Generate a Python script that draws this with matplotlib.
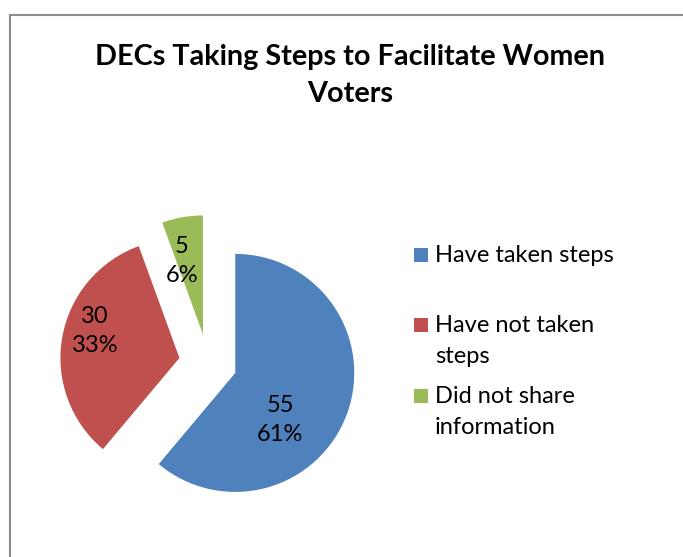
import matplotlib.pyplot as plt
from matplotlib.patches import Rectangle

# survey counts
categories = ["Have taken steps", "Have not taken\nsteps", "Did not share\ninformation"]
counts = [55, 30, 5]
colors = ["#4F81BD", "#C0504D", "#9BBB59"]
title = "DECs Taking Steps to Facilitate Women\nVoters"

plt.rcParams['font.family'] = ['Lato', 'DejaVu Sans']

W, H = 683, 557
R = 119.0          # pie radius in pixels
cx, cy = 208, 363  # pie centre (pixels from top-left)

fig = plt.figure(figsize=(W / 100, H / 100), dpi=100)
ax = fig.add_axes([0, 0, 1, 1])

total = sum(counts)

def fmt(pct):
    return f"{round(pct * total / 100)}\n{pct:.0f}%"

wedges, texts, autotexts = ax.pie(
    counts, colors=colors, startangle=90, counterclock=False,
    explode=[29 / R] * 3, radius=1, autopct=fmt,
    textprops=dict(fontsize=17, color="black", linespacing=1.45))

ax.set_xlim(-cx / R, (W - cx) / R)
ax.set_ylim(-(H - cy) / R, cy / R)
ax.set_aspect('equal')
ax.axis('off')

# data label positions (pixels)
label_pos = [(280, 420), (95, 331), (182, 261)]
for t, (px, py) in zip(autotexts, label_pos):
    t.set_position(((px - cx) / R, (cy - py) / R))
    t.set_ha('center')
    t.set_va('center')

# chart area border (only top and left edges show)
fig.patches.append(Rectangle((10, -10), W + 20, H - 14.5 + 10, transform=None,
                             fill=False, edgecolor="#8C8C8C", linewidth=1.5))

# title, one line at a time so baselines are fixed
for i, line in enumerate(title.split("\n")):
    fig.text(350 / W, 1 - (65 + 37 * i) / H, line, ha='center', va='baseline',
             fontsize=20.7, fontweight='bold')

# legend
legend_base = [262, 332, 403]
for lab, col, ly in zip(categories, colors, legend_base):
    fig.patches.append(Rectangle((414, H - ly), 14, 14, transform=None,
                                 facecolor=col, edgecolor='none'))
    for i, line in enumerate(lab.split("\n")):
        fig.text(435 / W, 1 - (ly + 31 * i) / H, line, ha='left',
                 va='baseline', fontsize=17)

fig.savefig("out.png", dpi=100)
